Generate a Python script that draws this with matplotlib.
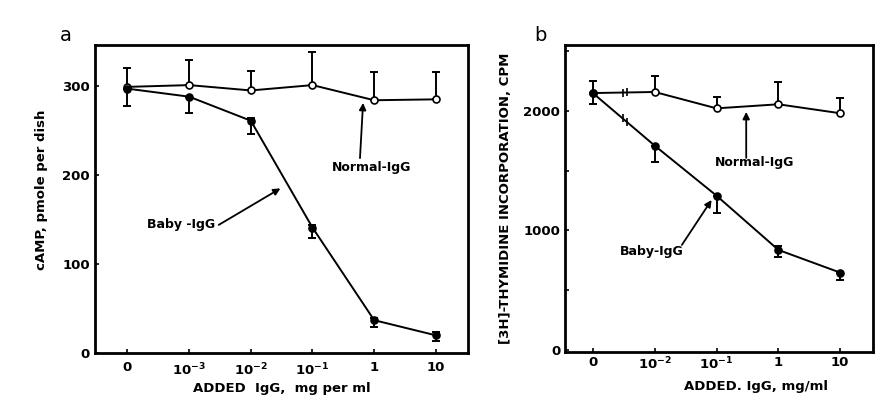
import numpy as np
import matplotlib
matplotlib.use("Agg")
import matplotlib.pyplot as plt

plt.rcParams['font.family'] = ['DejaVu Sans']
plt.rcParams['font.weight'] = 'bold'
plt.rcParams['mathtext.fontset'] = 'dejavusans'

# panel a: cAMP
etiquetasA = ['0', r'$\mathbf{10^{-3}}$', r'$\mathbf{10^{-2}}$', r'$\mathbf{10^{-1}}$', '1', '10']
normalA = [299, 301, 295, 301, 284, 285]
normalA_sup = [21, 28, 22, 37, 32, 31]
normalA_inf = [21, 0, 0, 0, 0, 0]
babyA = [297, 288, 261, 141, 37, 20]
babyA_sup = [0, 0, 3, 3, 3, 4]
babyA_inf = [0, 18, 15, 12, 8, 6]

# panel b: timidina
etiquetasB = ['0', r'$\mathbf{10^{-2}}$', r'$\mathbf{10^{-1}}$', '1', '10']
normalB = [2150, 2159, 2022, 2056, 1981]
normalB_sup = [100, 137, 98, 189, 130]
normalB_inf = [95, 0, 0, 0, 0]
babyB = [2150, 1710, 1291, 837, 647]
babyB_sup = [0, 0, 0, 33, 0]
babyB_inf = [0, 139, 147, 56, 61]

fig = plt.figure(figsize=(8.94, 3.95), dpi=100)
axA = fig.add_axes([0.106, 0.106, 0.4174, 0.780])
axB = fig.add_axes([0.632, 0.109, 0.3445, 0.777])

flecha = dict(arrowstyle='-|>', color='black', lw=1.3, mutation_scale=10,
              shrinkA=0, shrinkB=0)


def estilo(ax):
    for s in ax.spines.values():
        s.set_linewidth(2)
    ax.tick_params(direction='in', length=3, width=1.2, labelsize=9.5)


def serie(ax, x, y, inf, sup, relleno):
    ax.errorbar(x, y, yerr=[inf, sup], fmt='none', ecolor='black',
                elinewidth=1.4, capsize=3, capthick=1.4, zorder=2)
    ax.plot(x, y, color='black', lw=1.4, marker='o', ms=5,
            mfc='black' if relleno else 'white', mec='black', mew=1.2, zorder=3)


# --- panel a ---
xa = np.arange(len(etiquetasA))
serie(axA, xa, normalA, normalA_inf, normalA_sup, False)
serie(axA, xa, babyA, babyA_inf, babyA_sup, True)
axA.set_xlim(-0.53, 5.52)
axA.set_ylim(0, 346)
axA.set_xticks(xa)
axA.set_xticklabels(etiquetasA)
axA.set_yticks([0, 100, 200, 300])
axA.tick_params(axis='x', pad=6)
estilo(axA)
axA.set_xlabel('ADDED  IgG,  mg per ml', fontsize=9.5, fontweight='bold', labelpad=3)
axA.set_ylabel('cAMP, pmole per dish', fontsize=9.5, fontweight='bold')
axA.yaxis.set_label_coords(-0.126, 0.53)
axA.annotate('', xy=(3.82, 281), xytext=(3.77, 219), arrowprops=flecha)
axA.text(3.31, 208, 'Normal-IgG', fontsize=9, fontweight='bold', va='center')
axA.annotate('', xy=(2.48, 185), xytext=(1.48, 144), arrowprops=flecha)
axA.text(0.32, 144, 'Baby -IgG', fontsize=9, fontweight='bold', va='center')
fig.text(0.067, 0.895, 'a', fontsize=14, fontweight='normal')

# --- panel b ---
xb = np.arange(len(etiquetasB))
serie(axB, xb, normalB, normalB_inf, normalB_sup, False)
serie(axB, xb, babyB, babyB_inf, babyB_sup, True)
# marcas de corte del eje entre 0 y 10^-2
for yv in (normalB, babyB):
    xc = np.array([0.48, 0.55])
    axB.plot(xc, np.interp(xc, xb, yv), ls='none', marker='|', ms=6,
             mew=1.2, color='black', zorder=4)
axB.set_xlim(-0.45, 4.53)
axB.set_ylim(-17, 2552)
axB.set_xticks(xb)
axB.set_xticklabels(etiquetasB)
axB.set_yticks([0, 500, 1000, 1500, 2000, 2500])
axB.set_yticklabels(['0', '', '1000', '', '2000', ''])
axB.tick_params(axis='x', pad=3)
estilo(axB)
axB.set_xlabel('ADDED. IgG, mg/ml', fontsize=9.5, fontweight='bold')
axB.xaxis.set_label_coords(0.62, -0.09)
axB.set_ylabel('[3H]-THYMIDINE INCORPORATION, CPM', fontsize=9.5,
               fontweight='bold', labelpad=8)
axB.annotate('', xy=(2.48, 1992), xytext=(2.48, 1607), arrowprops=flecha)
axB.text(1.97, 1565, 'Normal-IgG', fontsize=9, fontweight='bold', va='center')
axB.annotate('', xy=(1.92, 1255), xytext=(1.44, 879), arrowprops=flecha)
axB.text(0.44, 820, 'Baby-IgG', fontsize=9, fontweight='bold', va='center')
fig.text(0.598, 0.895, 'b', fontsize=14, fontweight='normal')

fig.savefig('out.png', dpi=100)
